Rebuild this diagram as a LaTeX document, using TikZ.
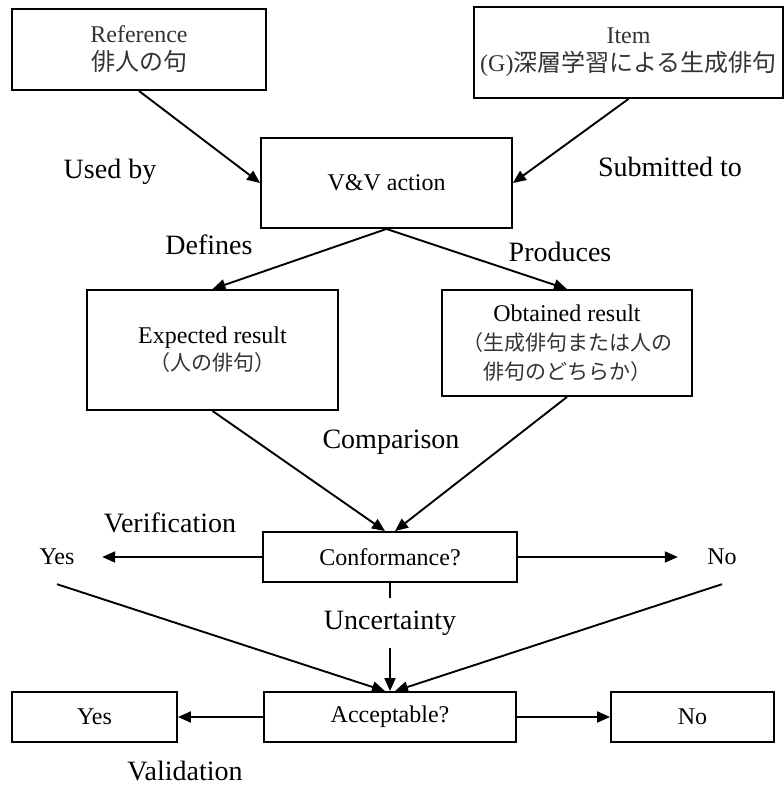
\documentclass[tikz,border=0pt]{standalone}
\usepackage{fontspec}
\setmainfont{Liberation Serif}
\newfontfamily\jp{Noto Sans CJK JP}
\usetikzlibrary{arrows.meta}
\begin{document}
\begin{tikzpicture}[x=1pt,y=-1pt,
  box/.style={draw,line width=1.9pt,rectangle,inner sep=0pt,align=center,
    font=\fontsize{24}{28}\selectfont},
  lbl/.style={inner sep=0pt,font=\fontsize{28}{32}\selectfont},
  plain/.style={inner sep=0pt,font=\fontsize{24}{28}\selectfont},
  link/.style={line width=1.9pt},
  arr/.style={link,-{Triangle[length=13pt,width=11pt]}}]
\useasboundingbox (0,0) rectangle (784,787);

% boxes
\node[box,minimum width=254pt,minimum height=81pt] (ref) at (139,49.5)
  {\textcolor{black!80}{Reference}\\{\jp\color{black!80}俳人の句}};
\node[box,minimum width=309pt,minimum height=91pt] (item) at (628.5,52.5)
  {\textcolor{black!80}{Item}\\\textcolor{black!80}{(G){\jp 深層学習による生成俳句}}};
\node[box,minimum width=251pt,minimum height=90pt] (vv) at (386.5,183) {V\&V action};
\node[box,minimum width=251pt,minimum height=120pt,font=\fontsize{24}{27}\selectfont] (exp) at (212.5,350)
  {Expected result\\{\jp\fontsize{21}{27}\selectfont\color{black!80}（人の俳句）}};
\node[box,minimum width=250pt,minimum height=106pt,font=\fontsize{24}{29}\selectfont] (obt) at (567,343)
  {Obtained result\\{\jp\fontsize{21}{29}\selectfont\color{black!80}（生成俳句または人の}\\{\jp\fontsize{21}{29}\selectfont\color{black!80}俳句のどちらか）}};
\node[box,minimum width=254pt,minimum height=50pt] (conf) at (390,557) {Conformance?};
\node[box,minimum width=252pt,minimum height=50pt] (acc) at (390,717) {Acceptable?};
\node[box,minimum width=165pt,minimum height=50pt] (yesb) at (94.5,717) {Yes};
\node[box,minimum width=163pt,minimum height=50pt] (nob) at (692.5,717) {No};

% outcomes of the conformance check
\node[plain,minimum width=90pt,minimum height=54pt] (yes1) at (57,557) {Yes};
\node[plain,minimum width=88pt,minimum height=54pt] (no1) at (722,557) {No};
\node[lbl,minimum height=50pt] (unc) at (390,623) {Uncertainty};

% labels
\node[lbl] (usedby) at (110,172) {Used by};
\node[lbl] (subm) at (670,167) {Submitted to};
\node[lbl] (defs) at (209,245) {Defines};
\node[lbl] (prod) at (560,252) {Produces};
\node[lbl] (comp) at (391,442) {Comparison};
\node[lbl] (verif) at (170,523) {Verification};
\node[lbl] (valid) at (185,771) {Validation};

% connectors
\draw[arr] (ref.south) -- (vv.west);
\draw[arr] (item.south) -- (vv.east);
\draw[arr] (vv.south) -- (exp.north);
\draw[arr] (vv.south) -- (obt.north);
\draw[arr] (exp.south) -- ([xshift=-5pt]conf.north);
\draw[arr] (obt.south) -- ([xshift=5pt]conf.north);
\draw[arr] (conf.west) -- (yes1.east);
\draw[arr] (conf.east) -- (no1.west);
\draw[link] (conf.south) -- (unc.north);
\draw[arr] (unc.south) -- (acc.north);
\draw[arr] (yes1.south) -- ([xshift=-5pt]acc.north);
\draw[arr] (no1.south) -- ([xshift=5pt]acc.north);
\draw[arr] (acc.west) -- (yesb.east);
\draw[arr] (acc.east) -- (nob.west);
\end{tikzpicture}
\end{document}
